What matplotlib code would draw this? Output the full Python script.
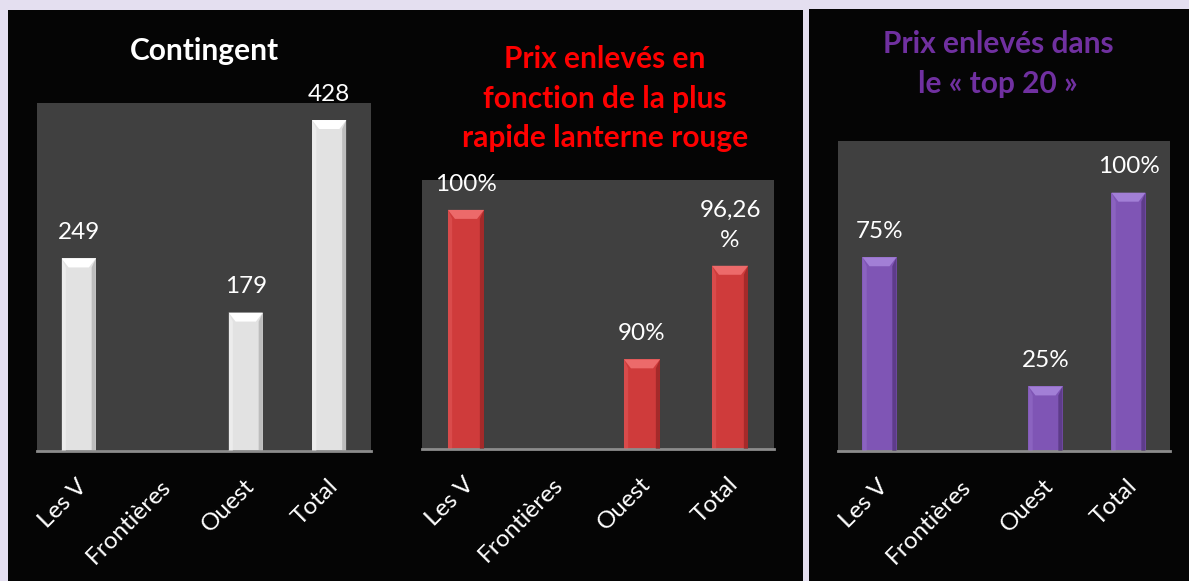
import numpy as np
import matplotlib
matplotlib.use("Agg")
import matplotlib.pyplot as plt
from matplotlib.patches import Rectangle, Polygon
from matplotlib.transforms import ScaledTranslation

plt.rcParams['font.family'] = ['Lato', 'DejaVu Sans']

# données
categories = ["Les V", "Frontières", "Ouest", "Total"]
contingent = [249, np.nan, 179, 428]
prix_lanterne = [100, np.nan, 90, 96.26]
prix_top20 = [75, np.nan, 25, 100]

W, H = 1189, 581
fig = plt.figure(figsize=(W / 100, H / 100), dpi=100)
fig.patch.set_facecolor('#e4dff0')

# fonds noirs des trois panneaux (pixels)
for x0, x1, y0 in [(8, 803, 10), (809, 1189, 9)]:
    fig.patches.append(Rectangle((x0 / W, 0), (x1 - x0) / W, (H - y0) / H,
                                 transform=fig.transFigure, facecolor='#050505',
                                 edgecolor='none', zorder=-5))


def px_axes(left, top, right, bottom):
    return fig.add_axes([left / W, (H - bottom) / H, (right - left) / W, (bottom - top) / H])


def fmt_pct(v):
    if float(v).is_integer():
        return f"{int(v)}%"
    # Excel a coupé l'étiquette sur deux lignes
    return f"{v:.2f}".replace('.', ',') + "\n%"


def draw_panel(ax, values, ylim, face, light, dark, fmt):
    ax.set_facecolor('#404040')
    ax.set_xlim(-0.5, 3.5)
    ax.set_ylim(*ylim)
    x = np.arange(len(categories))
    bars = ax.bar(x, values, width=0.41, color=face, edgecolor='none', zorder=2)

    # petit biseau façon Excel
    bb = ax.get_position()
    dx = 7 * (4.0 / (bb.width * W))
    dy = 9 * ((ylim[1] - ylim[0]) / (bb.height * H))
    for b, v in zip(bars, values):
        if np.isnan(v):
            continue
        x0, w = b.get_x(), b.get_width()
        x1 = x0 + w
        top = v
        base = ylim[0]
        ax.add_patch(Polygon([(x0, base), (x0 + dx * 0.6, base), (x0 + dx * 0.6, top - dy), (x0, top)],
                             closed=True, facecolor=light, edgecolor='none', alpha=0.35, zorder=3))
        ax.add_patch(Polygon([(x1, base), (x1 - dx * 0.6, base), (x1 - dx * 0.6, top - dy), (x1, top)],
                             closed=True, facecolor=dark, edgecolor='none', alpha=0.5, zorder=3))
        ax.add_patch(Polygon([(x0, top), (x1, top), (x1 - dx, top - dy), (x0 + dx, top - dy)],
                             closed=True, facecolor=light, edgecolor='none', zorder=3))
        ax.annotate(fmt(v), (b.get_x() + w / 2, top), xytext=(0, 11), textcoords='offset points',
                    ha='center', va='bottom', color='white', fontsize=17.5, linespacing=1.5,
                    annotation_clip=False)

    ax.set_xticks(x)
    ax.set_xticklabels(categories, rotation=45, ha='right', va='center', rotation_mode='anchor',
                       color='white', fontsize=17.5)
    ax.tick_params(axis='x', length=0, pad=23)
    shift = ScaledTranslation(5 / 100, 0, fig.dpi_scale_trans)
    for lab in ax.get_xticklabels():
        lab.set_transform(lab.get_transform() + shift)
    ax.set_yticks([])
    for s in ['top', 'left', 'right']:
        ax.spines[s].set_visible(False)
    ax.spines['bottom'].set_color('#8c8c8c')
    ax.spines['bottom'].set_linewidth(2)


ax1 = px_axes(37, 103, 371, 451)
draw_panel(ax1, contingent, (0, 450), '#e2e2e2', '#ffffff', '#9a9a9a', lambda v: f"{int(v)}")

ax2 = px_axes(422, 180, 774, 449)
draw_panel(ax2, prix_lanterne, (84, 102), '#cf3b3b', '#ec6a6a', '#7a1a1a', fmt_pct)

ax3 = px_axes(838, 141, 1170, 451)
draw_panel(ax3, prix_top20, (0, 120), '#7f55b5', '#a27fd6', '#3e2560', fmt_pct)

# titres
fig.text(204 / W, 1 - 51 / H, "Contingent", color='white', fontsize=21.5, fontweight='bold',
         ha='center', va='center')
fig.text(605 / W, 1 - 99 / H, "Prix enlevés en\nfonction de la plus\nrapide lanterne rouge",
         color='#ff0000', fontsize=21.5, fontweight='bold', ha='center', va='center', linespacing=1.5)
fig.text(998 / W, 1 - 64 / H, "Prix enlevés dans\nle « top 20 »", color='#7030a0', fontsize=21.5,
         fontweight='bold', ha='center', va='center', linespacing=1.5)

fig.savefig("out.png", dpi=100, facecolor=fig.get_facecolor())
